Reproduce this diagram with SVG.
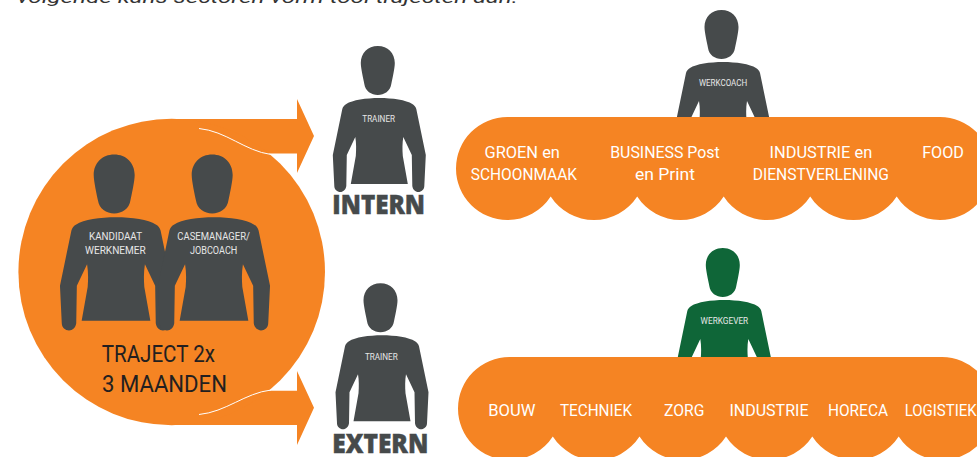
<svg xmlns="http://www.w3.org/2000/svg" width="977" height="457" viewBox="0 0 977 457">
<style>
.o{fill:#f58423}
.g{fill:#464a4b}
.v{fill:#0f6638}
text{font-family:"Roboto","Liberation Sans",sans-serif}
.s{fill:#fff;font-size:17px}
.b{fill:#e6e7e7;font-size:9.5px}
.m{font-size:10.5px}
.t{fill:#231f20;font-size:24px}
.h{fill:#464a4b;stroke:#464a4b;stroke-width:.5;font-family:"Open Sans","Liberation Sans",sans-serif;font-weight:800;font-size:27px}
.w{fill:none;stroke:#fff;stroke-width:1}
</style>
<defs>
<g id="person">
<path d="M-1.500 0C8.500 0 15.500 7 15.500 17C15.500 22 13 33 12 38C11 45 5 49 -1.500 49C-8 49 -14 45 -15 38C-16 33 -18.500 22 -18.500 17C-18.500 7 -11.500 0 -1.500 0Z"/>
<path d="M0 52C13 52 27 54 33 58C35 59 36.500 61 37 63L46.500 109L45 140C45 143.500 42 146 39 146C36 146 33.500 143.500 33 140L32.500 109L24 91C23 97 23 103 23.500 110L28.500 138L-28.500 138L-23.500 110C-23 103 -23 97 -24 91L-32.500 109L-33 140C-33.500 143.500 -36 146 -39 146C-42 146 -45 143.500 -45 140L-46.500 109L-37 63C-36.500 61 -35 59 -33 58C-27 54 -13 52 0 52Z"/>
</g>
</defs>
<text id="intro" x="17" y="2.500" font-size="17" font-style="italic" fill="#333" textLength="501" lengthAdjust="spacingAndGlyphs">volgende kans sectoren vorm tool trajecten aan.</text>
<g id="connectors">
<path class="o" d="M172 119L297 119L297 99L314 136L297 173L297 153.500L268 153.500L172 180Z"/>
<path class="o" d="M172 425L297 425L297 445L314 407.700L297 371L297 390.700L268 390.700L172 360Z"/>
</g>
<g id="traject">
<circle class="o" cx="171.700" cy="272" r="153.300"/>
<path class="w" d="M199 128.500C226 131 245 151 271 154.500"/>
<path class="w" d="M199 414.500C226 412 245 393 271 390"/>
<text class="t" x="101.700" y="361.700" textLength="113.300" lengthAdjust="spacingAndGlyphs">TRAJECT 2x</text>
<text class="t" x="102" y="391.700" textLength="125" lengthAdjust="spacingAndGlyphs">3 MAANDEN</text>
</g>
<g id="kandidaat">
<use href="#person" class="g" transform="translate(116 154.500) scale(1.205)"/>
<text class="b m" x="89" y="240" textLength="53" lengthAdjust="spacingAndGlyphs">KANDIDAAT</text>
<text class="b m" x="85" y="254" textLength="60.700" lengthAdjust="spacingAndGlyphs">WERKNEMER</text>
</g>
<g id="casemanager">
<use href="#person" class="g" transform="translate(214 154.500) scale(1.205)"/>
<text class="b m" x="177.300" y="240" textLength="72.700" lengthAdjust="spacingAndGlyphs">CASEMANAGER/</text>
<text class="b m" x="190" y="254" textLength="47.300" lengthAdjust="spacingAndGlyphs">JOBCOACH</text>
</g>
<g id="trainer-intern">
<use href="#person" class="g" transform="translate(379.300 46)"/>
<text class="b" x="362.300" y="121.700" textLength="32.700" lengthAdjust="spacingAndGlyphs">TRAINER</text>
<text class="h" x="332.300" y="214.300" textLength="92.700" lengthAdjust="spacingAndGlyphs">INTERN</text>
</g>
<g id="trainer-extern">
<use href="#person" class="g" transform="translate(382 283.300)"/>
<text class="b" x="365" y="360" textLength="32.700" lengthAdjust="spacingAndGlyphs">TRAINER</text>
<text class="h" x="332.300" y="453" textLength="96" lengthAdjust="spacingAndGlyphs">EXTERN</text>
</g>
<g id="werkcoach">
<use href="#person" class="g" transform="translate(723 10)"/>
<text class="b" x="698.900" y="86" textLength="48.300" lengthAdjust="spacingAndGlyphs">WERKCOACH</text>
</g>
<g id="werkgever">
<use href="#person" class="v" transform="translate(724.300 248)"/>
<text class="b" x="700.600" y="324" textLength="47.600" lengthAdjust="spacingAndGlyphs">WERKGEVER</text>
</g>
<g id="sectoren-intern">
<path class="o" d="M507.500 117L940 117A51.500 51.500 0 0 1 940 220A51.500 51.500 0 0 1 896.700 196.500A51.500 51.500 0 0 1 810.200 196.500A51.500 51.500 0 0 1 723.700 196.500A51.500 51.500 0 0 1 637.200 196.500A51.500 51.500 0 0 1 550.700 196.500A51.500 51.500 0 0 1 507.500 220A51.500 51.500 0 0 1 507.500 117Z"/>
<text class="s" x="484.500" y="158" textLength="75.400" lengthAdjust="spacingAndGlyphs">GROEN en</text>
<text class="s" x="470.800" y="180.300" textLength="106.200" lengthAdjust="spacingAndGlyphs">SCHOONMAAK</text>
<text class="s" x="610.200" y="158" textLength="109.600" lengthAdjust="spacingAndGlyphs">BUSINESS Post</text>
<text class="s" x="634.900" y="180.300" textLength="60.100" lengthAdjust="spacingAndGlyphs">en Print</text>
<text class="s" x="769.500" y="158" textLength="102.700" lengthAdjust="spacingAndGlyphs">INDUSTRIE en</text>
<text class="s" x="752.700" y="180.300" textLength="136.300" lengthAdjust="spacingAndGlyphs">DIENSTVERLENING</text>
<text class="s" x="922.200" y="158" textLength="41.800" lengthAdjust="spacingAndGlyphs">FOOD</text>
</g>
<g id="sectoren-extern">
<path class="o" d="M509.500 357L942 357A51.500 51.500 0 0 1 942 460A51.500 51.500 0 0 1 898.700 436.500A51.500 51.500 0 0 1 812.300 436.500A51.500 51.500 0 0 1 726 436.500A51.500 51.500 0 0 1 639.500 436.500A51.500 51.500 0 0 1 552.800 436.500A51.500 51.500 0 0 1 509.500 460A51.500 51.500 0 0 1 509.500 357Z"/>
<text class="s" x="488.300" y="416" textLength="47.200" lengthAdjust="spacingAndGlyphs">BOUW</text>
<text class="s" x="559.900" y="416" textLength="72.100" lengthAdjust="spacingAndGlyphs">TECHNIEK</text>
<text class="s" x="664" y="416" textLength="40.400" lengthAdjust="spacingAndGlyphs">ZORG</text>
<text class="s" x="729.400" y="416" textLength="79.100" lengthAdjust="spacingAndGlyphs">INDUSTRIE</text>
<text class="s" x="828" y="416" textLength="60" lengthAdjust="spacingAndGlyphs">HORECA</text>
<text class="s" x="904.700" y="416" textLength="72" lengthAdjust="spacingAndGlyphs">LOGISTIEK</text>
</g>
</svg>
